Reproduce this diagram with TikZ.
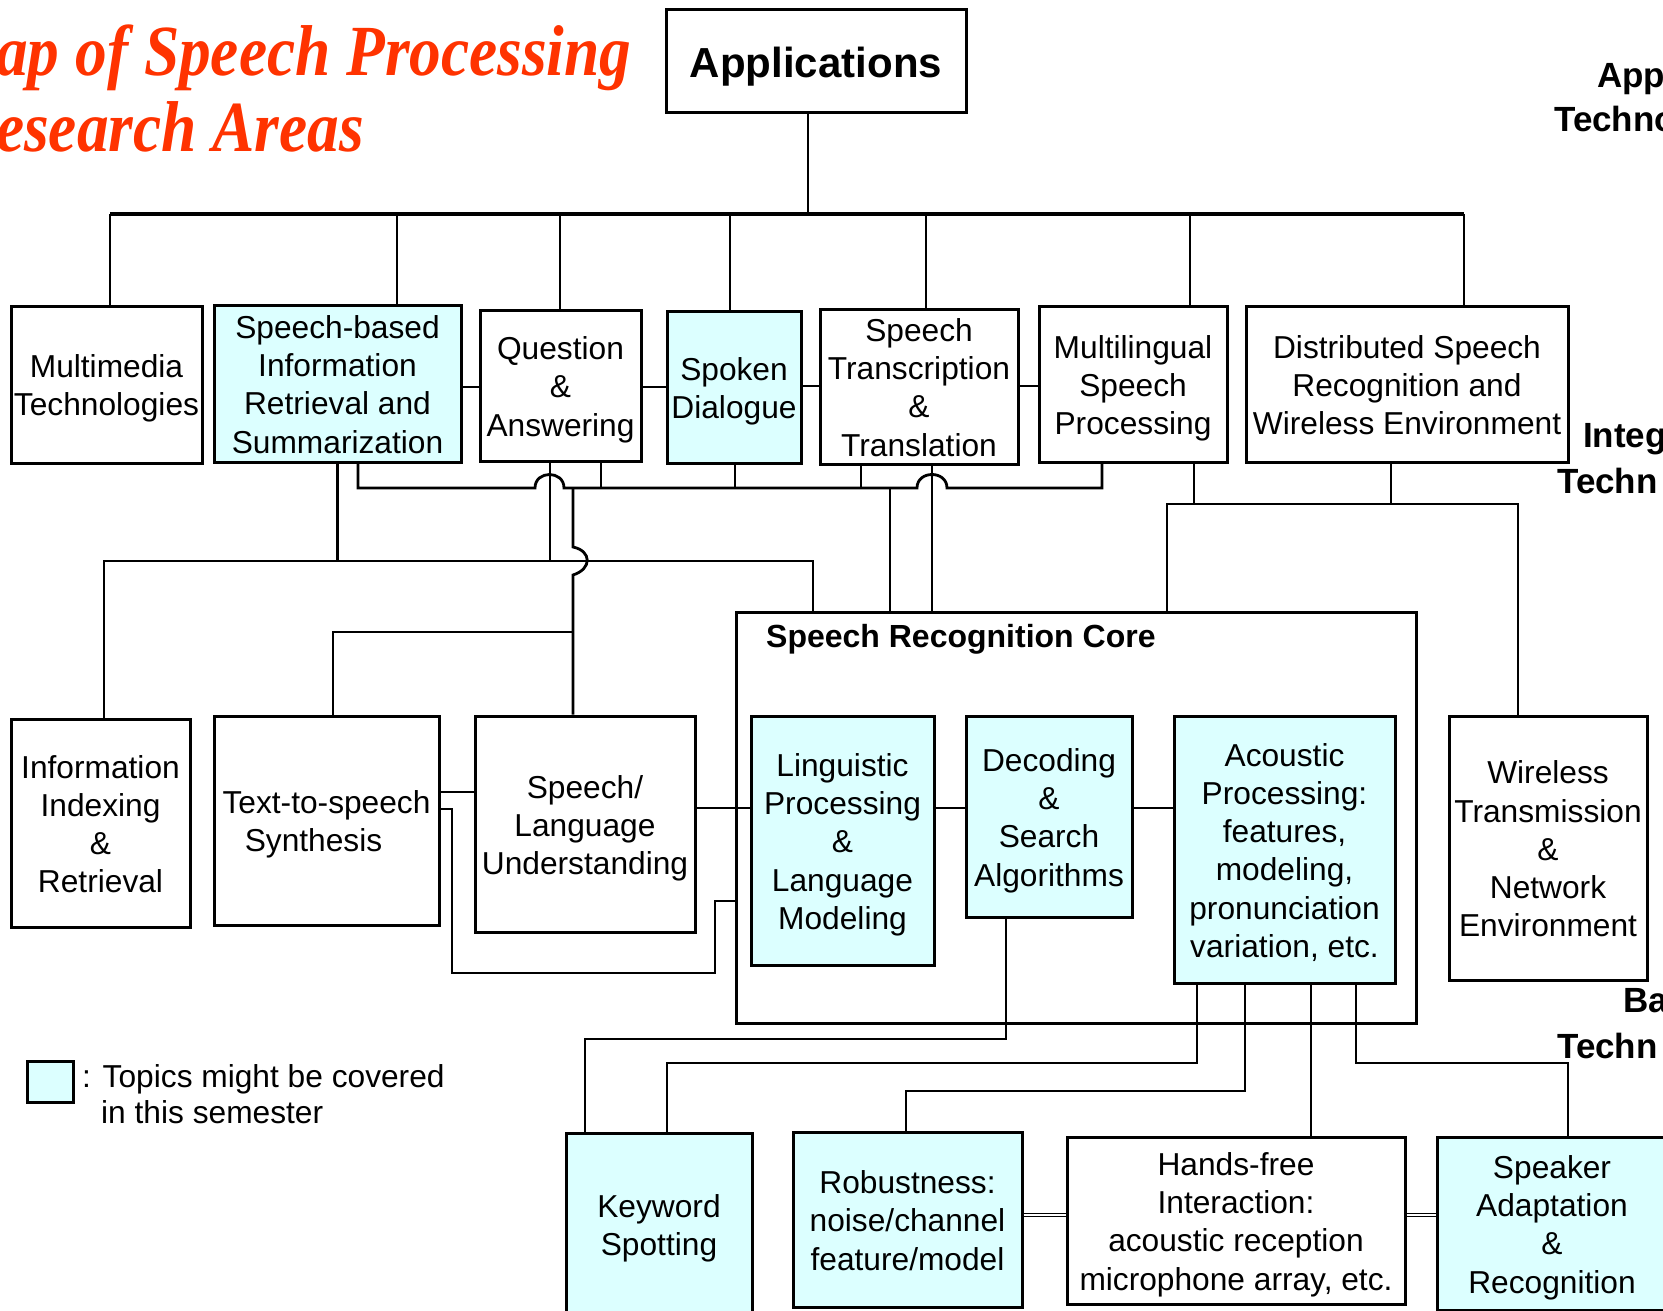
\documentclass[tikz,border=0pt]{standalone}
\usepackage{fontspec}
\setmainfont{Liberation Sans}
\newfontfamily\headserif{Liberation Serif}
\usepackage{graphicx}

\definecolor{topicfill}{RGB}{220,255,255}
\definecolor{titlered}{RGB}{255,51,0}

\newcommand{\boxfont}{\fontsize{31.7}{38.2}\selectfont}
% fixed top and bottom line extents so that every box text sits at the same optical height
\newcommand{\topline}{\rule{0pt}{32pt}}
\newcommand{\lastlinebox}{\rule[-7.4pt]{0pt}{7.4pt}}

\tikzset{
  plainbox/.style={draw=black, line width=3pt, fill=white, inner sep=0pt,
                   align=center, font=\boxfont, execute at end node=\lastlinebox},
  topicbox/.style={plainbox, fill=topicfill},
  emptybox/.style={draw=black, line width=3pt, inner sep=0pt},
  link/.style={line width=2.8pt, line join=miter},
  drop/.style={line width=2pt},
  busline/.style={line width=4.5pt},
  dbl/.style={double, double distance=2.2pt, line width=1pt},
  sidelabel/.style={anchor=base west, inner sep=0pt, font=\fontsize{35}{42}\selectfont\bfseries},
  titletext/.style={anchor=base west, inner sep=0pt, text=titlered,
                    font=\headserif\bfseries\itshape\fontsize{72}{84}\selectfont},
}

\begin{document}
\begin{tikzpicture}[x=1pt, y=-1pt]
\useasboundingbox (0,0) rectangle (1663,1311);
\fill[white] (0,0) rectangle (1663,1311);

% ---- title ----
\node[titletext] (title1) at (-4,76) {\scalebox{0.88}[1]{ap of Speech Processing}};
\node[titletext] (title2) at (-4,152) {\scalebox{0.88}[1]{esearch Areas}};

% ---- level labels on the right ----
\node[sidelabel] (lvA1) at (1597,88) {App};
\node[sidelabel] (lvA2) at (1554,132) {Techno};
\node[sidelabel] (lvB1) at (1583,447) {Integ};
\node[sidelabel] (lvB2) at (1557,493) {Techn};
\node[sidelabel] (lvC1) at (1623,1012) {Ba};
\node[sidelabel] (lvC2) at (1557,1058) {Techn};

% ---- recognition core frame ----
\node[emptybox, fill=white, minimum width=680pt, minimum height=411pt] (core) at (1076,817.5) {};
\node[anchor=base west, inner sep=0pt, font=\fontsize{32}{38}\selectfont\bfseries]
  (corelabel) at (766,647) {Speech Recognition Core};

% ---- applications ----
\node[emptybox, fill=white, minimum width=300pt, minimum height=103pt,
      font=\fontsize{42}{50}\selectfont\bfseries] (app) at (816,61.5)
  {\rule[-8pt]{0pt}{48pt}Applications};

% ---- integrated technologies ----
\node[plainbox, minimum width=191pt, minimum height=157pt] (mm) at (106.5,384.5) {\topline Multimedia\\Technologies};
\node[topicbox, minimum width=247pt, minimum height=157pt] (sb) at (337.5,383.5) {\topline Speech-based\\Information\\Retrieval and\\Summarization};
\node[plainbox, minimum width=161pt, minimum height=151pt] (qa) at (560.5,385.5) {\topline Question\\\&\\Answering};
\node[topicbox, minimum width=134pt, minimum height=152pt] (sd) at (734,387) {\topline Spoken\\Dialogue};
\node[plainbox, minimum width=198pt, minimum height=155pt] (st) at (919,386.5) {\topline Speech\\Transcription\\\&\\Translation};
\node[plainbox, minimum width=188pt, minimum height=156pt] (ml) at (1133,384) {\topline Multilingual\\Speech\\Processing};
\node[plainbox, minimum width=322pt, minimum height=156pt] (dsr) at (1407,384) {\topline Distributed Speech\\Recognition and\\Wireless Environment};

% ---- middle row ----
\node[plainbox, minimum width=179pt, minimum height=208pt] (iir) at (100.5,823) {\topline Information\\Indexing\\\&\\Retrieval};
\node[plainbox, minimum width=225pt, minimum height=209pt] (tts) at (326.5,820.5) {\topline Text-to-speech\\Synthesis\hspace*{26pt}};
\node[plainbox, minimum width=220pt, minimum height=216pt] (slu) at (585,824) {\topline Speech/\\Language\\Understanding};
\node[topicbox, minimum width=183pt, minimum height=249pt] (ling) at (842.5,840.5) {\topline Linguistic\\Processing\\\&\\Language\\Modeling};
\node[topicbox, minimum width=166pt, minimum height=201pt] (dec) at (1049,816.5) {\topline Decoding\\\&\\Search\\Algorithms};
\node[topicbox, minimum width=221pt, minimum height=267pt] (ac) at (1284.5,849.5) {\topline Acoustic\\Processing:\\features,\\modeling,\\pronunciation\\variation, etc.};
\node[plainbox, minimum width=198pt, minimum height=264pt] (wtn) at (1548,848) {\topline Wireless\\Transmission\\\&\\Network\\Environment};

% ---- basic technologies ----
\node[topicbox, minimum width=186pt, minimum height=183pt] (kws) at (659,1224.5) {\topline Keyword\\Spotting};
\node[topicbox, minimum width=229pt, minimum height=175pt] (rob) at (907.5,1219.5) {\topline Robustness:\\noise/channel\\feature/model};
\node[plainbox, minimum width=338pt, minimum height=167pt] (hf) at (1236,1220.5) {\topline Hands-free\\Interaction:\\acoustic reception\\microphone array, etc.};
\node[topicbox, minimum width=230pt, minimum height=173pt] (spk) at (1552,1223.5) {\topline Speaker\\Adaptation\\\&\\Recognition};

% ---- legend ----
\node[emptybox, fill=topicfill, minimum width=46pt, minimum height=41pt] (key) at (50,1081.5) {};
\node[anchor=base west, inner sep=0pt, font=\boxfont] (keytext1) at (82,1087) {: Topics might be covered};
\node[anchor=base west, inner sep=0pt, font=\boxfont] (keytext2) at (101,1123) {in this semester};

% ---- applications tree ----
\coordinate (stem) at (808,214);
\draw[drop] (app.south -| stem) -- (stem);
\draw[busline] (110,214) -- (1464,214);
\foreach \n/\x in {mm/110, sb/397, qa/560, sd/730, st/926, ml/1190, dsr/1464}
  \draw[drop] (\x,214) -- (\n.north -| \x,0);

% side links between application boxes
\draw[link] (sb.east |- 0,387) -- (qa.west |- 0,387);
\draw[link] (qa.east |- 0,387) -- (sd.west |- 0,387);
\draw[link] (sd.east |- 0,386) -- (st.west |- 0,386);
\draw[link] (st.east |- 0,386) -- (ml.west |- 0,386);

% gathering bus under the application boxes, hopping over two verticals
\draw[link] (sb.south -| 358,0) -- (358,488) -- (535,488)
  .. controls (535,470) and (564,470) .. (564,488) -- (917,488)
  .. controls (917,470) and (947,470) .. (947,488) -- (1102,488) -- (ml.south -| 1102,0);
\draw[link] (qa.south -| 601,0) -- (601,488);
\draw[link] (sd.south -| 735,0) -- (735,488);
\draw[link] (st.south -| 861,0) -- (861,488);
\draw[link] (890,488) -- (core.north -| 890,0);
\draw[link] (st.south -| 932,0) -- (core.north -| 932,0);
\draw[link] (qa.south -| 550,0) -- (550,561);
\draw[link] (sb.south) -- (sb.south |- 0,561);

% left bus towards indexing and the core
\draw[link] (iir.north -| 104,0) -- (104,561) -- (813,561) -- (core.north -| 813,0);
\draw[link] (573,488) -- (573,547) .. controls (592,551) and (592,569) .. (573,575) -- (slu.north -| 573,0);
\draw[link] (573,632) -- (333,632) -- (tts.north -| 333,0);

% right group: multilingual / distributed to core and wireless
\draw[link] (ml.south -| 1194,0) -- (1194,504);
\draw[link] (dsr.south -| 1391,0) -- (1391,504);
\draw[link] (core.north -| 1167,0) -- (1167,504) -- (1518,504) -- (wtn.north -| 1518,0);

% middle row links
\draw[link] (tts.east |- 0,792) -- (slu.west |- 0,792);
\draw[link] (tts.east |- 0,809) -- (452,809) -- (452,973) -- (715,973) -- (715,901) -- (core.west |- 0,901);
\draw[link] (slu.east |- 0,808) -- (ling.west |- 0,808);
\draw[link] (ling.east |- 0,808) -- (dec.west |- 0,808);
\draw[link] (dec.east |- 0,808) -- (ac.west |- 0,808);

% down to the basic technologies
\draw[link] (dec.south -| 1006,0) -- (1006,1039) -- (585,1039) -- (kws.north -| 585,0);
\draw[link] (ac.south -| 1197,0) -- (1197,1063) -- (667,1063) -- (kws.north -| 667,0);
\draw[link] (ac.south -| 1245,0) -- (1245,1091) -- (906,1091) -- (rob.north -| 906,0);
\draw[link] (ac.south -| 1311,0) -- (hf.north -| 1311,0);
\draw[link] (ac.south -| 1356,0) -- (1356,1063) -- (1568,1063) -- (spk.north -| 1568,0);

% double links in the bottom row
\draw[dbl] (rob.east |- 0,1215) -- (hf.west |- 0,1215);
\draw[dbl] (hf.east |- 0,1215) -- (spk.west |- 0,1215);
\end{tikzpicture}
\end{document}
